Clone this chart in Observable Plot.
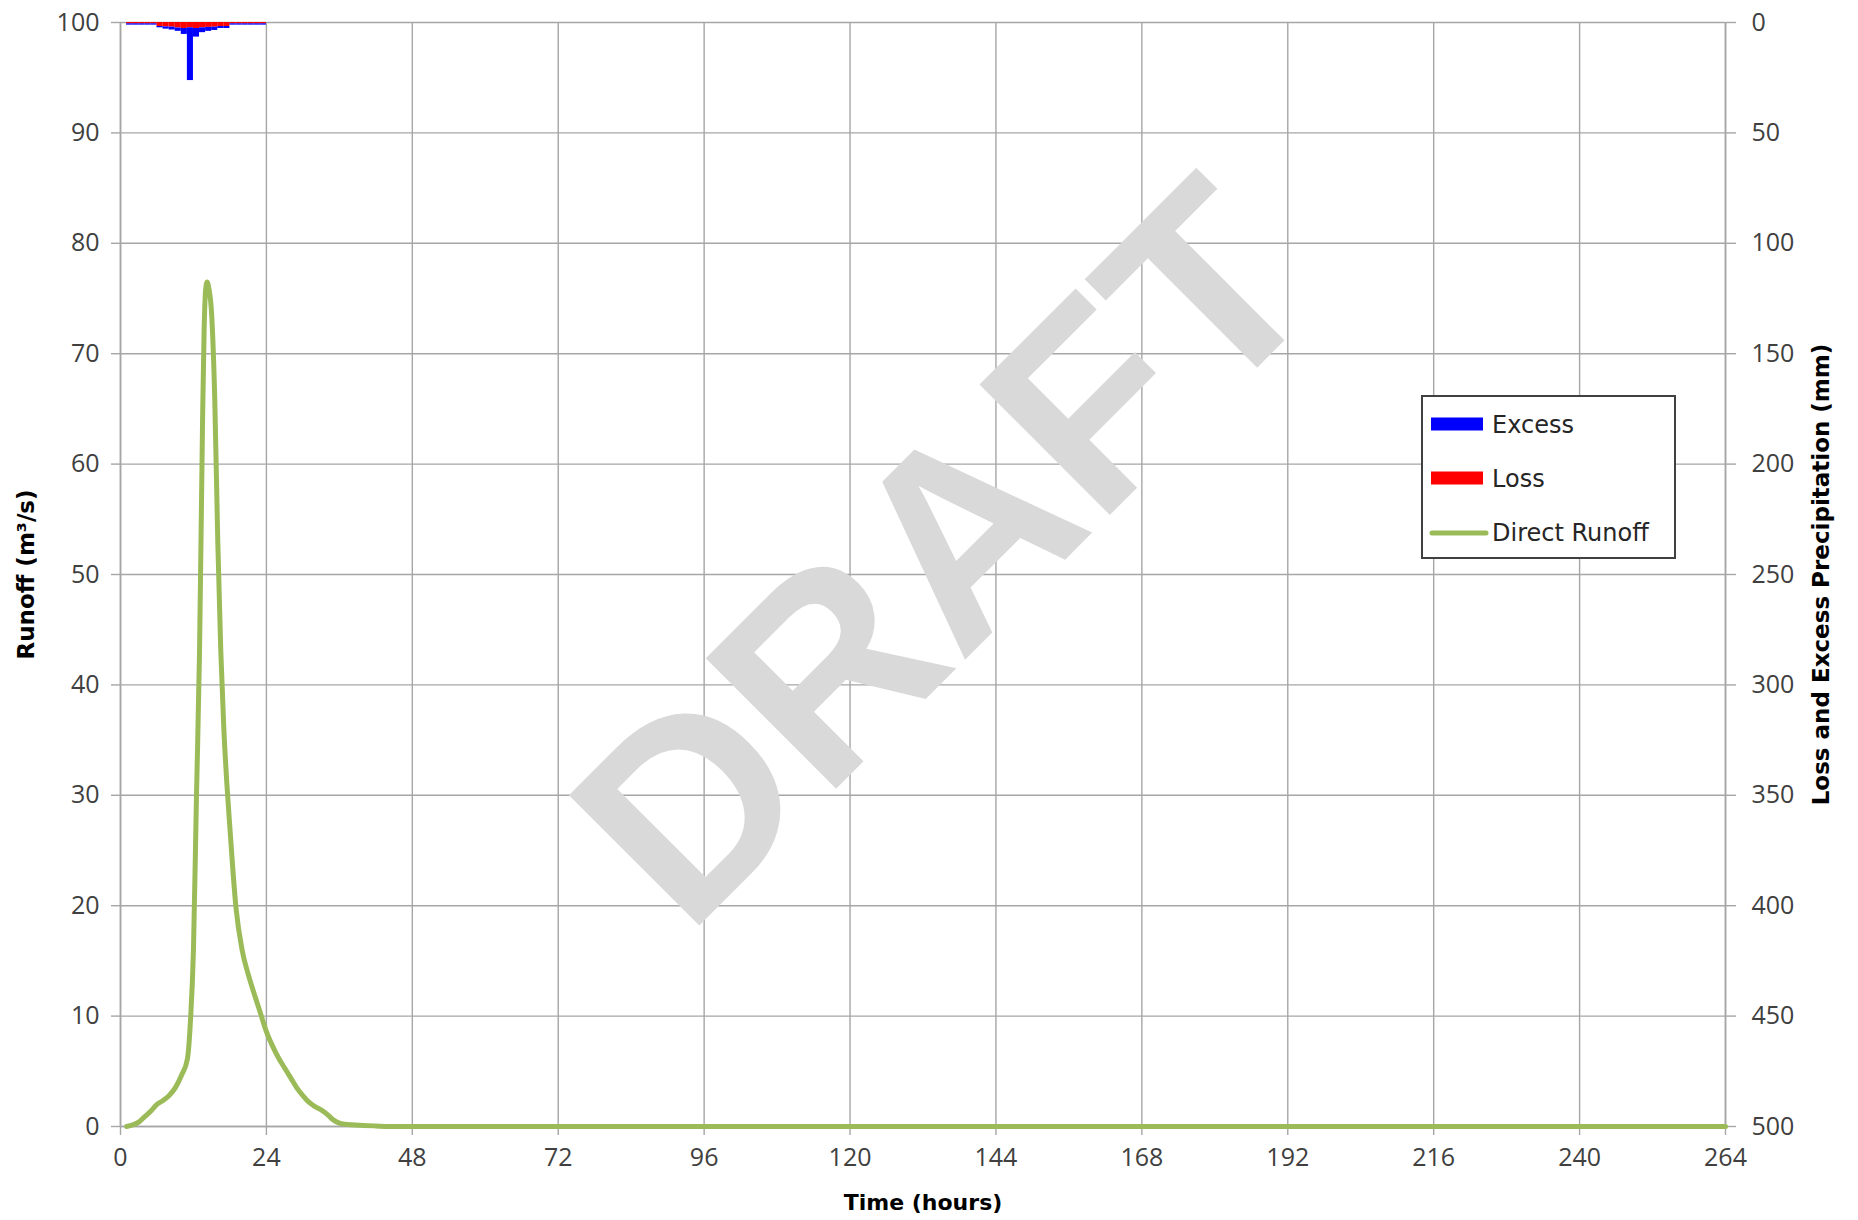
<!DOCTYPE html>
<html>
<head>
<meta charset="utf-8">
<script src="https://cdn.jsdelivr.net/npm/d3@7"></script>
<script src="https://cdn.jsdelivr.net/npm/@observablehq/plot@0.6"></script>
<style>
  html, body { margin: 0; padding: 0; background: #ffffff; }
  #chart { position: relative; width: 1858px; height: 1220px; }
</style>
</head>
<body>
<div id="chart"></div>
<script>
// ---- Data ----
// Hyetograph bars: start hour of each 1-hour bar, loss and excess depth (mm)
const barHours = [1, 2, 3, 4, 5, 6, 7, 8, 9, 10, 11, 12, 13, 14, 15, 16, 17, 18, 19, 20, 21, 22, 23];
const lossMm   = [0.6, 0.6, 0.6, 0.6, 0.6, 1.8, 2.0, 2.1, 2.5, 2.7, 2.4, 2.7, 2.4, 2.2, 2.1, 1.8, 1.8, 0.6, 0.6, 0.6, 0.6, 0.6, 0.6];
const excessMm = [0.6, 0.6, 0.6, 0.6, 0.6, 0.6, 1.0, 1.3, 1.5, 2.7, 23.9, 3.9, 2.2, 1.8, 1.5, 0.9, 0.9, 0.6, 0.6, 0.6, 0.6, 0.6, 0.6];

// Direct runoff hydrograph (hours, m3/s)
const runoffTime = [1, 2, 3, 4, 5, 6, 7, 8, 9, 10, 11, 11.5, 12, 12.5, 13, 13.5, 13.75, 14, 14.25, 14.5, 15, 15.5, 16, 16.5, 17, 17.5, 18, 19, 20, 21, 22, 23, 24, 25, 26, 27, 28, 29, 30, 31, 32, 33, 34, 35, 36, 37, 38, 40, 42, 44, 48, 72, 96, 120, 144, 168, 192, 216, 240, 264];
const runoffQ    = [0, 0.15, 0.4, 0.9, 1.4, 2.0, 2.35, 2.8, 3.5, 4.6, 6.1, 9.5, 16, 30, 43, 64, 72, 75.8, 76.5, 76, 73.5, 66, 53, 43, 36, 31, 27, 19.8, 16, 13.8, 12, 10.3, 8.6, 7.3, 6.2, 5.3, 4.4, 3.5, 2.8, 2.2, 1.8, 1.5, 1.1, 0.6, 0.3, 0.2, 0.15, 0.1, 0.05, 0, 0, 0, 0, 0, 0, 0, 0, 0, 0, 0];

// Axis ticks
const xTicks = [0, 24, 48, 72, 96, 120, 144, 168, 192, 216, 240, 264];
const yTicks = [0, 10, 20, 30, 40, 50, 60, 70, 80, 90, 100];
const precipMax = 500; // right axis: 0 at top, 500 at bottom

// ---- Build tables ----
const bars = barHours.map((h, i) => ({h, loss: lossMm[i], excess: excessMm[i]}));
const runoff = runoffTime.map((t, i) => ({t, q: runoffQ[i]}));
const toY = mm => 100 - mm * 100 / precipMax;

const gridColor = "#a6a6a6";
const tickFont = "'Open Sans', sans-serif";
const labelFont = "'DejaVu Sans', sans-serif";

const svg = Plot.plot({
  width: 1858,
  height: 1220,
  marginLeft: 120,
  marginRight: 133,
  marginTop: 22,
  marginBottom: 94,
  x: {domain: [0, 264]},
  y: {domain: [0, 100]},
  style: {background: "#ffffff", fontFamily: tickFont, color: "#404040"},
  marks: [
    Plot.gridX(xTicks, {stroke: gridColor, strokeOpacity: 1, strokeWidth: 1.4}),
    Plot.gridY(yTicks, {stroke: gridColor, strokeOpacity: 1, strokeWidth: 1.4}),
    Plot.text(["DRAFT"], {frameAnchor: "middle", textAnchor: "middle", rotate: -45, fontSize: 268, fontWeight: "bold",
      fontFamily: "'Liberation Sans', Arial, sans-serif", fill: "#d9d9d9", dx: 24, dy: -18}),
    Plot.ruleX([0, 264], {stroke: gridColor, strokeWidth: 1.6}),
    Plot.ruleY([0], {stroke: gridColor, strokeWidth: 1.6}),
    Plot.axisX({ticks: xTicks, tickSize: 9, tickPadding: 13, fontSize: 25, label: null,
      stroke: gridColor, strokeWidth: 1.4, fill: "#404040"}),
    Plot.axisY({anchor: "left", ticks: yTicks, tickSize: 9, tickPadding: 12, fontSize: 25, label: null,
      stroke: gridColor, strokeWidth: 1.4, fill: "#404040"}),
    Plot.axisY({anchor: "right", ticks: yTicks, tickFormat: d => (100 - d) * precipMax / 100,
      tickSize: 10, tickPadding: 16, fontSize: 25, label: null,
      stroke: gridColor, strokeWidth: 1.4, fill: "#404040"}),
    // Loss (on top, hanging from 0 mm)
    Plot.rect(bars, {x1: d => d.h, x2: d => d.h + 1, y1: () => toY(0), y2: d => toY(d.loss), fill: "#ff0000"}),
    // Excess (stacked below loss)
    Plot.rect(bars, {x1: d => d.h, x2: d => d.h + 1, y1: d => toY(d.loss), y2: d => toY(d.loss + d.excess), fill: "#0000ff"}),
    // Direct runoff
    Plot.line(runoff, {x: "t", y: "q", stroke: "#9bbb59", strokeWidth: 5, curve: "monotone-x",
      strokeLinejoin: "round", strokeLinecap: "round"}),
    // Axis titles
    Plot.text(["Runoff (m³/s)"], {frameAnchor: "left", textAnchor: "middle", rotate: -90, dx: -94, fontSize: 23,
      fontWeight: "bold", fontFamily: labelFont, fill: "#000000"}),
    Plot.text(["Loss and Excess Precipitation (mm)"], {frameAnchor: "right", textAnchor: "middle", rotate: -90, dx: 96,
      fontSize: 23, fontWeight: "bold", fontFamily: labelFont, fill: "#000000"}),
    Plot.text(["Time (hours)"], {frameAnchor: "bottom", textAnchor: "middle", dy: 83, fontSize: 22, fontWeight: "bold",
      fontFamily: labelFont, fill: "#000000"})
  ]
});

// ---- Legend (drawn into the same SVG) ----
const legendItems = [
  {label: "Excess", color: "#0000ff", type: "rect"},
  {label: "Loss", color: "#ff0000", type: "rect"},
  {label: "Direct Runoff", color: "#9bbb59", type: "line"}
];
const lg = d3.select(svg).append("g").attr("transform", "translate(1422,396)");
lg.append("rect").attr("width", 253).attr("height", 162)
  .attr("fill", "#ffffff").attr("stroke", "#404040").attr("stroke-width", 2);
legendItems.forEach((it, i) => {
  const cy = 28 + i * 54;
  if (it.type === "rect") {
    lg.append("rect").attr("x", 9).attr("y", cy - 6.5).attr("width", 52).attr("height", 13).attr("fill", it.color);
  } else {
    lg.append("line").attr("x1", 10).attr("x2", 64).attr("y1", cy + 1).attr("y2", cy + 1)
      .attr("stroke", it.color).attr("stroke-width", 5).attr("stroke-linecap", "round");
  }
  lg.append("text").attr("x", 70).attr("y", cy).attr("dy", "0.36em").attr("text-anchor", "start")
    .attr("font-family", labelFont).attr("font-size", 24).attr("fill", "#262626").text(it.label);
});

document.getElementById("chart").appendChild(svg);
</script>
</body>
</html>
